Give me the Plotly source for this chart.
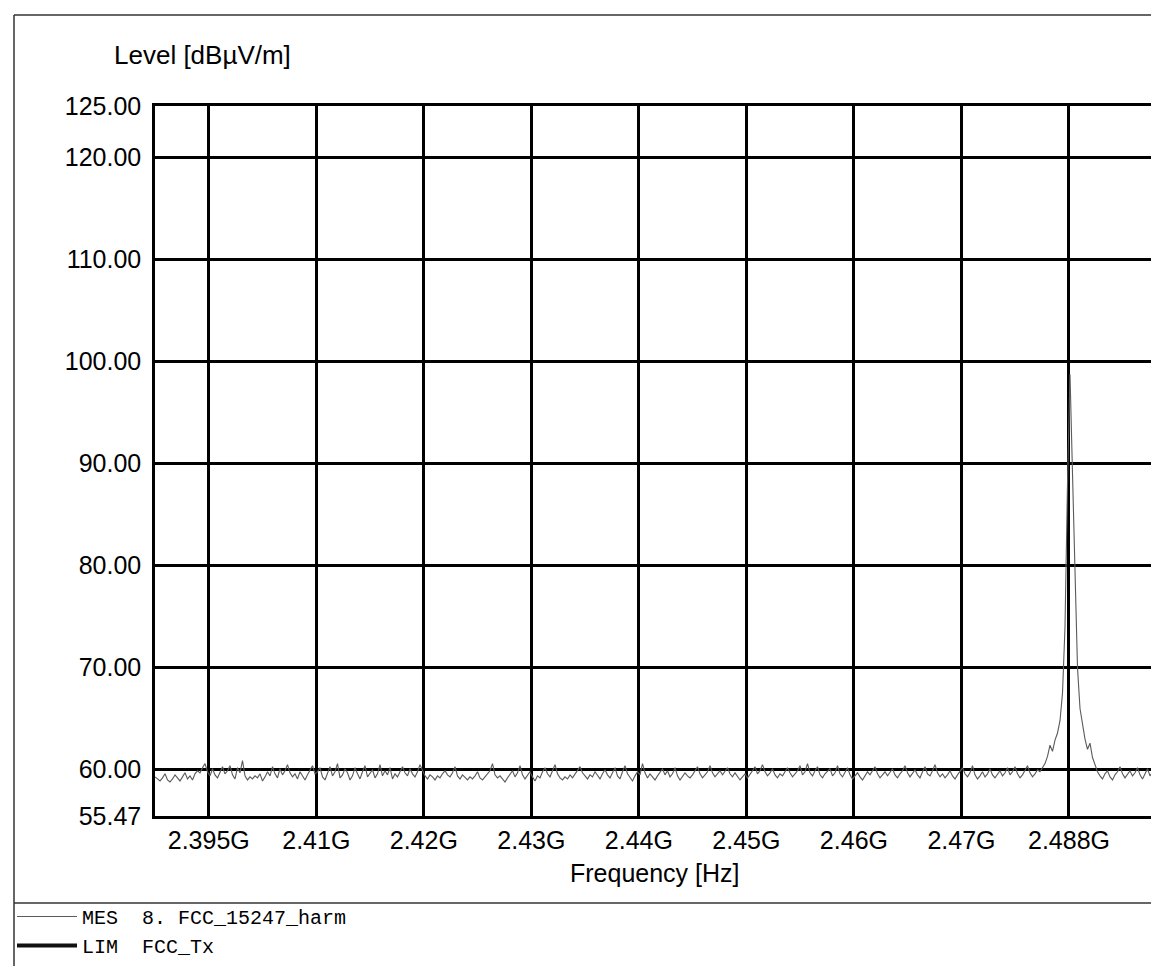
import numpy as np
import plotly.graph_objects as go

# ---------------- data ----------------
freq_start_ghz = 2.39
freq_stop_ghz = 2.483

# MES trace: level in dBuV/m, equally spaced sweep points from start to stop
mes_level = [
    59.3, 59.1, 58.9, 59.2, 59.6, 59.0, 58.8, 59.1, 59.5, 59.2, 58.9, 59.3, 59.7, 59.1, 59.4, 59.0, 59.6, 59.9, 59.7, 60.2,
    60.6, 59.8, 59.4, 60.1, 59.5, 59.2, 59.8, 60.3, 59.6, 59.9, 60.4, 59.5, 59.1, 60.2, 59.7, 60.9, 59.4, 59.0, 59.3, 59.1,
    59.4, 59.2, 59.6, 58.9, 59.3, 59.8, 59.4, 60.3, 59.6, 59.2, 60.1, 59.5, 59.9, 60.5, 59.7, 59.3, 59.6, 59.1, 59.8, 59.4,
    59.0, 59.5, 59.9, 60.4, 59.6, 59.8, 60.2, 59.3, 59.0, 59.6, 60.3, 59.4, 59.8, 60.6, 59.2, 59.5, 60.1, 59.7, 59.0, 59.4,
    60.2, 59.6, 59.1, 59.8, 60.4, 59.3, 59.7, 60.0, 59.2, 59.6, 60.5, 59.4, 59.9, 59.5, 60.2, 59.1, 59.6, 59.3, 59.8, 60.3,
    59.7, 59.4, 60.1, 59.6, 59.3, 59.8, 60.5, 59.9, 59.4, 59.1, 59.5, 59.3, 59.0, 59.4, 59.2, 59.6, 59.9, 59.5, 59.3, 59.7,
    60.3, 59.4, 59.1, 59.5, 59.2, 59.0, 59.3, 59.1, 59.4, 59.8, 59.2, 59.0, 59.3, 59.6, 59.9, 60.6, 59.5, 59.2, 59.4, 59.1,
    58.8, 59.2, 59.6, 59.9, 59.3, 59.7, 60.4, 59.5, 59.1, 59.4, 59.8, 59.3, 58.9, 59.4, 59.2, 59.8, 60.2, 59.6, 59.3, 59.9,
    60.5, 59.6, 59.2, 59.0, 59.3, 59.1, 59.5, 59.2, 59.6, 59.9, 60.3, 59.7, 59.4, 59.1, 59.5, 59.3, 59.8, 59.4, 59.1, 59.6,
    60.0, 59.5, 59.2, 59.7, 60.2, 59.4, 59.1, 59.8, 60.4, 59.6, 59.3, 58.9, 59.4, 59.8, 59.5, 60.6, 59.7, 59.2, 59.6, 59.3,
    59.0, 59.4, 59.8, 60.1, 59.5, 59.9, 59.3, 59.6, 60.2, 59.4, 59.0, 59.3, 59.7, 59.4, 59.2, 59.5, 59.9, 60.3, 59.6, 59.2,
    59.5, 59.8, 60.4, 59.7, 59.3, 59.6, 59.9, 59.5, 59.8, 60.2, 59.6, 59.3, 59.7, 59.4, 59.0, 59.3, 59.6, 59.2, 59.5, 59.9,
    60.3, 59.6, 59.9, 60.5, 59.8, 59.4, 59.7, 60.1, 59.5, 59.2, 59.6, 59.4, 59.8, 60.2, 59.7, 59.3, 59.6, 59.9, 60.4, 59.5,
    59.8, 60.6, 59.7, 59.4, 59.9, 60.3, 59.5, 59.2, 59.6, 59.9, 60.1, 59.4, 59.7, 60.4, 59.6, 59.3, 59.8, 60.2, 59.5, 59.1,
    59.4, 59.7, 59.3, 59.0, 59.4, 59.8, 59.5, 59.9, 60.3, 59.6, 59.2, 59.5, 59.8, 59.4, 59.7, 60.1, 59.5, 59.2, 59.6, 59.9,
    60.4, 59.7, 59.3, 59.6, 60.0, 59.5, 59.2, 59.8, 60.3, 59.6, 59.4, 59.9, 60.5, 59.7, 59.3, 59.6, 59.2, 59.5, 59.9, 59.4,
    59.1, 59.5, 59.8, 60.2, 59.6, 59.3, 59.7, 60.4, 59.5, 59.1, 59.4, 59.8, 59.3, 59.6, 60.1, 59.5, 59.2, 59.6, 59.9, 59.4,
    59.7, 60.2, 59.5, 59.8, 60.3, 59.6, 59.2, 59.5, 59.9, 60.4, 59.7, 59.3, 59.6, 60.0, 59.8, 60.2,
    60.6, 61.3, 62.4, 61.8, 62.9, 63.6, 64.8, 67.5, 74.0, 88.0, 98.7, 89.0, 80.0, 70.0, 66.0, 64.5, 63.0, 62.0, 62.6, 61.2,
    60.4, 59.8,
    59.4, 59.1, 59.6, 59.9, 59.3, 59.0, 59.5, 59.8, 60.3, 59.6, 59.2, 59.5, 59.9, 59.4, 59.7, 60.2, 59.5, 59.1, 59.6, 60.1,
    59.4, 59.8, 60.2,
]

# LIM trace (FCC_Tx): lies below the displayed range
lim_freq_ghz = [2.39, 2.483]
lim_level = [54.0, 54.0]

x_tick_vals = [2.395, 2.405, 2.415, 2.425, 2.435, 2.445, 2.455, 2.465, 2.475]
x_tick_text = ["2.395G", "2.41G", "2.42G", "2.43G", "2.44G", "2.45G", "2.46G", "2.47G", "2.488G"]
y_tick_vals = [55.47, 60, 70, 80, 90, 100, 110, 120, 125]
y_tick_text = ["55.47", "60.00", "70.00", "80.00", "90.00", "100.00", "110.00", "120.00", "125.00"]
y_min, y_max = 55.47, 125.0

mes_freq_ghz = np.linspace(freq_start_ghz, freq_stop_ghz, len(mes_level))

# ---------------- figure ----------------
W, H = 1159, 966
L, R, T, B = 147, 12, 98, 158
pw, ph = W - L - R, H - T - B


def px_x(p):
    return (p - L) / pw


def px_y(p):
    return (H - B - p) / ph


SANS = "Liberation Sans, Arial, sans-serif"
MONO = "Liberation Mono, Courier New, monospace"

fig = go.Figure()
fig.add_trace(go.Scatter(
    x=mes_freq_ghz, y=mes_level, mode="lines",
    name="MES\u00a0\u00a08.\u00a0FCC_15247_harm",
    line=dict(color="#5a5a5a", width=1.1),
))
fig.add_trace(go.Scatter(
    x=lim_freq_ghz, y=lim_level, mode="lines",
    name="LIM\u00a0\u00a0FCC_Tx",
    line=dict(color="#111111", width=4),
))

axis_common = dict(
    showgrid=True, gridcolor="#000000", gridwidth=2.5,
    showline=True, linecolor="#000000", linewidth=2.5, mirror=True,
    ticks="", zeroline=False,
    tickfont=dict(family=SANS, size=25, color="#000000"),
)

fig.update_xaxes(range=[freq_start_ghz, freq_stop_ghz], tickmode="array",
                 tickvals=x_tick_vals, ticktext=x_tick_text,
                 ticklabelstandoff=0, **axis_common)
fig.update_yaxes(range=[y_min, y_max], tickmode="array",
                 tickvals=y_tick_vals, ticktext=y_tick_text,
                 ticklabelstandoff=6, **axis_common)

frame = dict(color="#333333", width=1.5)
shapes = [
    dict(type="line", xref="paper", yref="paper", x0=px_x(6), x1=px_x(W), y0=px_y(7), y1=px_y(7), line=frame),
    dict(type="line", xref="paper", yref="paper", x0=px_x(6), x1=px_x(6), y0=px_y(7), y1=px_y(H), line=frame),
    dict(type="line", xref="paper", yref="paper", x0=px_x(6), x1=px_x(W), y0=px_y(895), y1=px_y(895), line=frame),
]

annotations = [
    dict(text="Level [dBµV/m]", xref="paper", yref="paper", x=px_x(104), y=px_y(47),
         xanchor="left", yanchor="middle", showarrow=False,
         font=dict(family=SANS, size=26, color="#000000")),
    dict(text="Frequency [Hz]", xref="paper", yref="paper", x=0.5, y=px_y(865),
         xanchor="center", yanchor="middle", showarrow=False,
         font=dict(family=SANS, size=25, color="#000000")),
]

fig.update_layout(
    width=W, height=H,
    margin=dict(l=L, r=R, t=T, b=B, pad=0, autoexpand=False),
    paper_bgcolor="#ffffff", plot_bgcolor="#ffffff",
    shapes=shapes, annotations=annotations,
    showlegend=True,
    legend=dict(x=px_x(4), y=px_y(889), xanchor="left", yanchor="top",
                bgcolor="rgba(0,0,0,0)", borderwidth=0,
                font=dict(family=MONO, size=20, color="#000000"),
                itemwidth=60, tracegroupgap=0, traceorder="normal"),
)

fig.write_html("out.html")
